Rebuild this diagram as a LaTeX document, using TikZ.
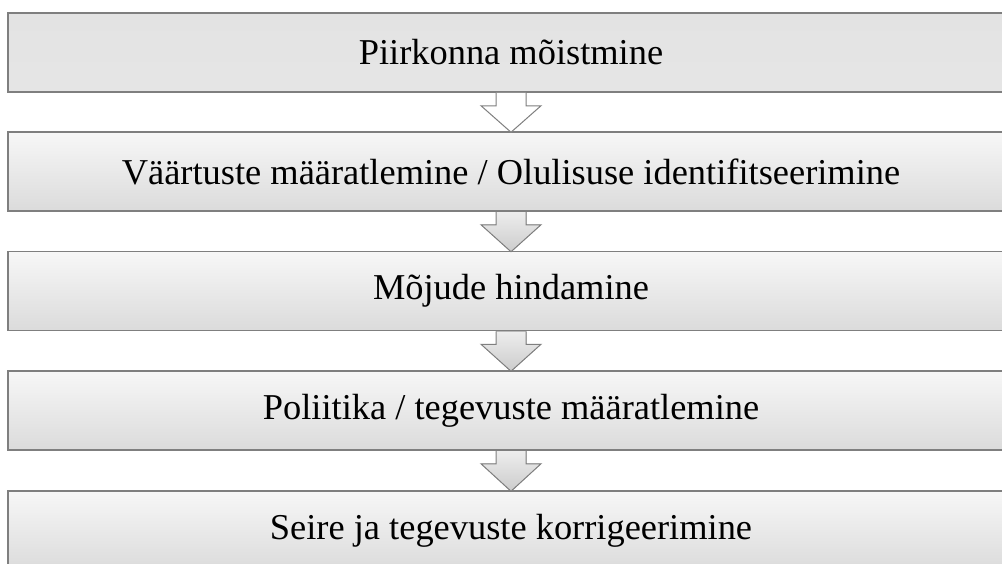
\documentclass[tikz,border=0pt]{standalone}
\usepackage{fontspec}
\setmainfont{Liberation Serif}
\usetikzlibrary{calc}

\definecolor{boxline}{HTML}{7F7F7F}
\definecolor{boxtop}{HTML}{F7F7F7}
\definecolor{boxbot}{HTML}{DBDBDB}

% block arrow from the bottom of #1 to the top of #2
\newcommand{\flowarrow}[3]{%
  \fill[#3] ($(#1.south)+(-15,0)$) -- ($(#1.south)+(-15,13)$)
    -- ($(#1.south)+(-30,13)$) -- ($(#2.north)+(0,1)$)
    -- ($(#1.south)+(30,13)$) -- ($(#1.south)+(15,13)$)
    -- ($(#1.south)+(15,0)$) -- cycle;
  \draw[arrline] ($(#1.south)+(-15,0)$) -- ($(#1.south)+(-15,13)$)
    -- ($(#1.south)+(-30,13)$) -- ($(#2.north)+(0,1)$)
    -- ($(#1.south)+(30,13)$) -- ($(#1.south)+(15,13)$)
    -- ($(#1.south)+(15,0)$);}

\begin{document}
\begin{tikzpicture}[x=1pt, y=-1pt,
        stagebox/.style = {rectangle, draw=boxline, line width=1.5pt,
                           minimum width=1006pt, minimum height=79pt,
                           inner sep=0pt, top color=boxtop, bottom color=boxbot,
                           font=\fontsize{36.4}{43}\selectfont},
        firstbox/.style = {stagebox, shading=axis, top color=black!11,
                           middle color=black!15, bottom color=black!10},
        arrline/.style  = {draw=boxline, line width=1pt, line join=miter},
        whitearr/.style = {fill=white},
        grayarr/.style  = {top color=black!7, bottom color=black!20}
    ]
    \useasboundingbox (0,0) rectangle (1002,563);
    \clip (0,0) rectangle (1002,563);

    \node[firstbox] (grasp) at (511, 52.5) {Piirkonna mõistmine};
    \node[stagebox] (values) at (511, 171.5)
        {Väärtuste määratlemine / Olulisuse identifitseerimine};
    \node[stagebox] (impact) at (511, 291) {Mõjude hindamine};
    \node[stagebox] (policy) at (511, 410.5)
        {Poliitika / tegevuste määratlemine};
    \node[stagebox] (monitor) at (511, 530.5)
        {Seire ja tegevuste korrigeerimine};

    \flowarrow{grasp}{values}{whitearr}
    \flowarrow{values}{impact}{grayarr}
    \flowarrow{impact}{policy}{grayarr}
    \flowarrow{policy}{monitor}{grayarr}
\end{tikzpicture}
\end{document}
